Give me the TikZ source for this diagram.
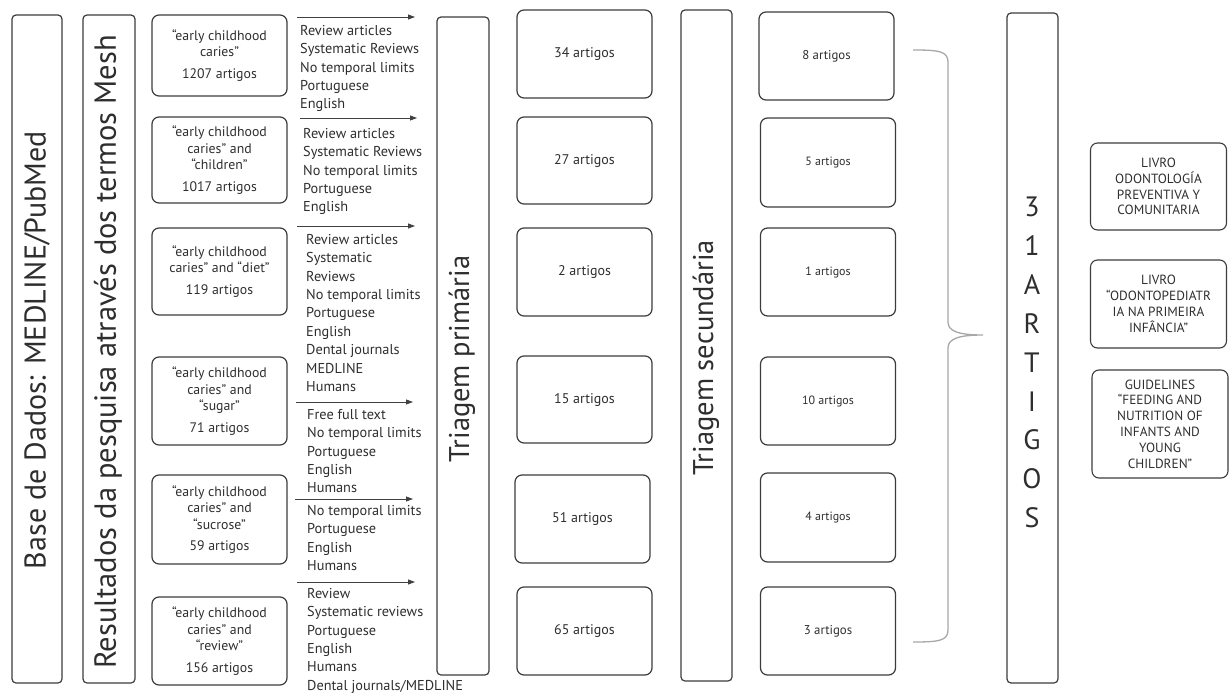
\documentclass[tikz,border=0pt]{standalone}
\usepackage{fontspec}
\setmainfont{PT Sans}
\usetikzlibrary{arrows.meta,positioning}
\definecolor{edgegray}{HTML}{3C3C3C}
\definecolor{inkgray}{HTML}{2E2E2E}
\definecolor{bracegray}{HTML}{A8A8A8}
\tikzset{
  barbox/.style={draw=edgegray, line width=1.2pt, rounded corners=4pt, rotate=90, inner sep=0pt},
  bartext/.style={rotate=90, inner sep=0pt, text=inkgray, font=\fontsize{28.5}{30}\selectfont},
  querybox/.style={draw=edgegray, line width=1.2pt, rounded corners=7pt, align=center, minimum width=135pt, text=inkgray, font=\fontsize{13.8}{16.5}\selectfont},
  countbox/.style={draw=edgegray, line width=1.2pt, rounded corners=7pt, minimum width=135pt, minimum height=88pt, text=inkgray, font=\fontsize{14}{16}\selectfont},
  smallcount/.style={countbox, font=\fontsize{12}{14}\selectfont},
  bookbox/.style={draw=edgegray, line width=1.1pt, rounded corners=7pt, align=center, minimum width=136pt, text=inkgray, font=\fontsize{13.3}{15.8}\selectfont, inner sep=0pt},
  filtertext/.style={anchor=north west, align=left, inner sep=0pt, text=inkgray, font=\fontsize{14.3}{18.4}\selectfont},
  arrow/.style={-{Triangle[length=7pt,width=5pt]}, draw=black!75, line width=0.8pt},
  bracestroke/.style={draw=bracegray, line width=1.3pt}
}
\begin{document}
\begin{tikzpicture}[x=1pt, y=-1pt]
  \useasboundingbox (0,0) rectangle (1229,693);

  \node[barbox, minimum width=668pt, minimum height=50pt] (base) at (37,349) {};
  \node[bartext, font=\fontsize{30}{32}\selectfont] (baselbl) at (37,350) {Base de Dados: MEDLINE/PubMed};
  \node[barbox, minimum width=668pt, minimum height=52pt] (mesh) at (109,349) {};
  \node[bartext, font=\fontsize{30.5}{32}\selectfont] (meshlbl) at (108,352) {Resultados da pesquisa através dos termos Mesh};

  \node[querybox, minimum height=81pt] (q1) at (219.5,55.5) {“early childhood\\ caries”\\[5pt] 1207 artigos};
  \node[querybox, minimum height=86pt] (q2) at (219.5,160) {“early childhood\\ caries” and\\ “children”\\[5pt] 1017 artigos};
  \node[querybox, minimum height=87pt] (q3) at (219.5,271.5) {“early childhood\\ caries” and “diet”\\[5pt] 119 artigos};
  \node[querybox, minimum height=88pt] (q4) at (219.5,401) {“early childhood\\ caries” and\\ “sugar”\\[5pt] 71 artigos};
  \node[querybox, minimum height=89pt] (q5) at (219.5,519.5) {“early childhood\\ caries” and\\ “sucrose”\\[5pt] 59 artigos};
  \node[querybox, minimum height=88pt] (q6) at (219.5,641) {“early childhood\\ caries” and\\ “review”\\[5pt] 156 artigos};

  \node[filtertext] (f1) at (300,25) {Review articles\\Systematic Reviews\\No temporal limits\\Portuguese\\English};
  \node[filtertext] (f2) at (303,128) {Review articles\\Systematic Reviews\\No temporal limits\\Portuguese\\English};
  \node[filtertext] (f3) at (306,234) {Review articles\\Systematic\\Reviews\\No temporal limits\\Portuguese\\English\\Dental journals\\MEDLINE\\Humans};
  \node[filtertext] (f4) at (307,409) {Free full text\\No temporal limits\\Portuguese\\English\\Humans};
  \node[filtertext] (f5) at (307,505) {No temporal limits\\Portuguese\\English\\Humans};
  \node[filtertext] (f6) at (307,588) {Review\\Systematic reviews\\Portuguese\\English\\Humans\\Dental journals/MEDLINE};

  \foreach \i/\xa/\xb/\y in {1/297/415/17,2/300/417/118,3/297/415/226,4/296/413/402,5/295/413/499,6/297/415/582} {
    \coordinate (from\i) at (\xa,\y);
    \coordinate (to\i) at (\xb,\y);
    \draw[arrow] (from\i) -- (to\i);
  }

  \node[barbox, minimum width=658pt, minimum height=52pt] (prim) at (463,346) {};
  \node[bartext] (primlbl) at (462,359) {Triagem primária};

  \node[countbox] (c1) at (584.5,54) {34 artigos};
  \node[countbox, minimum height=87pt] (c2) at (584.5,160.5) {27 artigos};
  \node[countbox] (c3) at (584.5,272) {2 artigos};
  \node[countbox, minimum height=87pt] (c4) at (584.5,399.5) {15 artigos};
  \node[countbox] (c5) at (582.5,519) {51 artigos};
  \node[countbox] (c6) at (584.5,631) {65 artigos};

  \node[barbox, minimum width=671pt, minimum height=51pt] (sec) at (706.5,345.5) {};
  \node[bartext] (seclbl) at (706,358) {Triagem secundária};

  \node[countbox, font=\fontsize{12.8}{15}\selectfont] (d1) at (826.5,56) {8 artigos};
  \node[smallcount, minimum height=89pt] (d2) at (828,162.5) {5 artigos};
  \node[smallcount] (d3) at (828,272) {1 artigos};
  \node[smallcount] (d4) at (828,401) {10 artigos};
  \node[smallcount, minimum height=89pt] (d5) at (828,517.5) {4 artigos};
  \node[countbox, font=\fontsize{12.8}{15}\selectfont] (d6) at (828,631) {3 artigos};

  \coordinate (bracetop) at (913,50);
  \coordinate (bracetip) at (983,335);
  \coordinate (bracebot) at (913,642);
  \draw[bracestroke] (bracetop) .. controls (938,50) and (948,51) .. (948,62)
    -- (948,322) .. controls (948,331) and (958,335) .. (bracetip)
    .. controls (958,335) and (948,339) .. (948,348)
    -- (948,630) .. controls (948,641) and (938,642) .. (bracebot);

  \node[barbox, minimum width=670pt, minimum height=51pt] (total) at (1032.5,348) {};
  \node[align=center, inner sep=0pt, text=inkgray, font=\fontsize{28}{38.9}\selectfont] (totallbl) at (1032,362.5) {3\\1\\A\\R\\T\\I\\G\\O\\S};

  \node[bookbox, minimum height=87pt] (livro1) at (1158.5,186.5) {LIVRO\\ODONTOLOGÍA\\PREVENTIVA Y\\COMUNITARIA};
  \node[bookbox, minimum height=88pt] (livro2) at (1158.5,304) {LIVRO\\“ODONTOPEDIATR\\IA NA PRIMEIRA\\INFÂNCIA”};
  \node[bookbox, minimum height=108pt] (guide) at (1160,424) {GUIDELINES\\“FEEDING AND\\NUTRITION OF\\INFANTS AND\\YOUNG\\CHILDREN”};
\end{tikzpicture}
\end{document}
